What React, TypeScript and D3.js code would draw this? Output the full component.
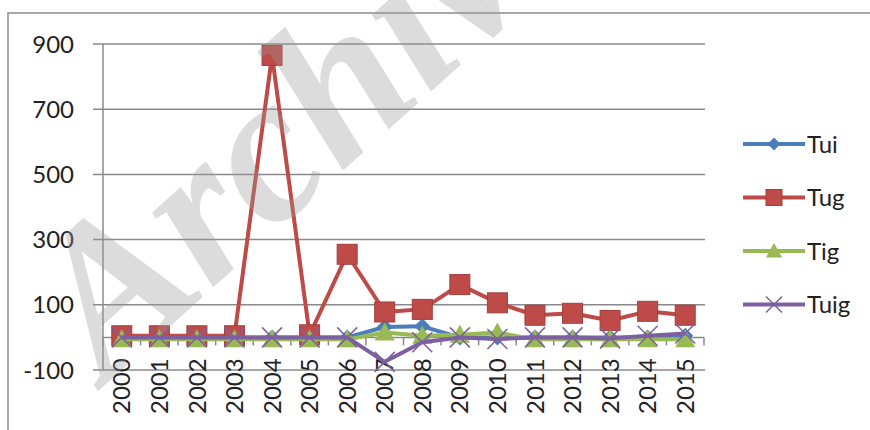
import React from 'react';
import * as d3 from 'd3';

const years = ['2000','2001','2002','2003','2004','2005','2006','2007','2008','2009','2010','2011','2012','2013','2014','2015'];
const tui = [0, 0, 0, 0, 0, 0, 0, 32, 34, 0, 0, 0, 0, 0, 0, 5];
const tug = [5, 5, 5, 5, 865, 8, 255, 78, 86, 162, 106, 68, 74, 52, 80, 68];
const tig = [-6, -6, -6, -6, -6, -6, -6, 15, 5, 8, 15, -6, -6, -6, -6, -6];
const tuig = [0, 0, 0, 0, 0, 0, 0, -75, -15, 0, -5, 0, 0, -3, 5, 12];
const yTicks = [-100, 100, 300, 500, 700, 900];

const series = [
  { name: 'Tui', values: tui, color: '#4a7ebb', marker: 'diamond' },
  { name: 'Tug', values: tug, color: '#be4b48', marker: 'square' },
  { name: 'Tig', values: tig, color: '#98b954', marker: 'triangle' },
  { name: 'Tuig', values: tuig, color: '#7d60a0', marker: 'x' },
];

const W = 870, H = 430;
const margin = { left: 103, right: 166, top: 44, bottom: 60 };

function Marker({ type, cx, cy, color, size = 1 }: { type: string; cx: number; cy: number; color: string; size?: number }) {
  const s = size;
  if (type === 'square') {
    return <rect x={cx - 10 * s} y={cy - 10 * s} width={20 * s} height={20 * s} fill={color} stroke="#a33e3b" strokeWidth={1} />;
  }
  if (type === 'diamond') {
    return <path d={`M${cx},${cy - 8 * s}L${cx + 8 * s},${cy}L${cx},${cy + 8 * s}L${cx - 8 * s},${cy}Z`} fill={color} />;
  }
  if (type === 'triangle') {
    return <path d={`M${cx},${cy - 10 * s}L${cx + 10 * s},${cy + 8 * s}L${cx - 10 * s},${cy + 8 * s}Z`} fill={color} />;
  }
  return (
    <path d={`M${cx - 10 * s},${cy - 10 * s}L${cx + 10 * s},${cy + 10 * s}M${cx - 10 * s},${cy + 10 * s}L${cx + 10 * s},${cy - 10 * s}`}
      stroke={color} strokeWidth={1.5} fill="none" />
  );
}

export default function App() {
  const x = d3.scaleBand<string>().domain(years).range([margin.left, W - margin.right]);
  const y = d3.scaleLinear().domain([-100, 900]).range([H - margin.bottom, margin.top]);
  const cx = (d: string) => (x(d) as number) + x.bandwidth() / 2;
  const line = d3.line<number>().x((_, i) => cx(years[i])).y(v => y(v));
  const font = 'Lato, "Open Sans", sans-serif';
  const gridColor = '#8a8a8a';

  return (
    <svg width={W} height={H} style={{ position: 'absolute', left: 0, top: 0, background: '#fff' }}>
      <rect x={8} y={13} width={W} height={H} fill="#fff" stroke="#8c8c8c" strokeWidth={1.5} />

      {/* gridlines + y labels */}
      {yTicks.map(t => (
        <g key={t}>
          <line x1={margin.left - 10} x2={W - margin.right + 1} y1={y(t)} y2={y(t)} stroke={gridColor} strokeWidth={1.5} />
          <text x={74} y={y(t)} dy="0.36em" textAnchor="end" fontFamily={font} fontSize={24} fill="#222">{t}</text>
        </g>
      ))}
      <line x1={margin.left} x2={margin.left} y1={margin.top} y2={H - margin.bottom} stroke={gridColor} strokeWidth={1.5} />

      {/* category axis at zero */}
      <line x1={margin.left} x2={W - margin.right} y1={y(0)} y2={y(0)} stroke={gridColor} strokeWidth={1.5} />
      {years.concat(['end']).map((d, i) => {
        const tx = margin.left + i * x.bandwidth();
        return <line key={d} x1={tx} x2={tx} y1={y(0)} y2={y(0) + 8} stroke={gridColor} strokeWidth={1.5} />;
      })}
      {years.map(d => (
        <text key={d} transform={`translate(${cx(d)},414) rotate(-90)`} dy="0.36em" textAnchor="start"
          fontFamily={font} fontSize={24} fill="#222">{d}</text>
      ))}

      {/* series */}
      {series.map(s => (
        <g key={s.name}>
          <path d={line(s.values) || ''} fill="none" stroke={s.color} strokeWidth={4} strokeLinejoin="round" />
          {s.values.map((v, i) => (
            <Marker key={i} type={s.marker} cx={cx(years[i])} cy={y(v)} color={s.color} />
          ))}
        </g>
      ))}

      {/* legend */}
      {series.map((s, i) => {
        const ly = 144 + i * 53.5;
        return (
          <g key={s.name}>
            <line x1={743} x2={805} y1={ly} y2={ly} stroke={s.color} strokeWidth={4} />
            <Marker type={s.marker} cx={774} cy={ly} color={s.color} size={0.8} />
            <text x={807} y={ly} dy="0.36em" fontFamily={font} fontSize={24} fill="#222">{s.name}</text>
          </g>
        );
      })}

      {/* watermark */}
      <text transform="translate(106,384) rotate(-42)" fontFamily='"Liberation Serif", "DejaVu Serif", serif'
        fontWeight="bold" fontStyle="italic" fontSize={210} fill="#9a9a9a" opacity={0.34}>Archive</text>
    </svg>
  );
}
